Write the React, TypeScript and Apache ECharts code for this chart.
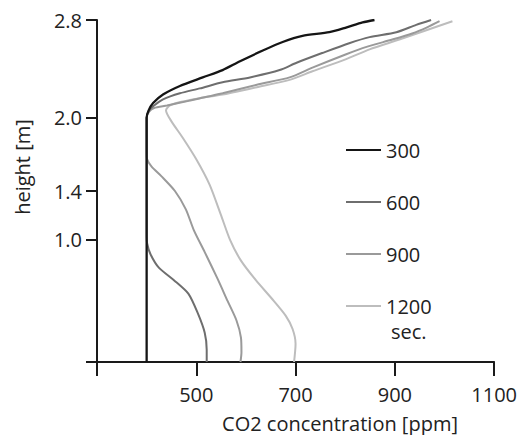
import React, { useEffect, useRef } from "react";
import * as echarts from "echarts";

// ---- data (CO2 concentration [ppm] vs height [m]) ----
const seriesNames = ["300", "600", "900", "1200"];

const ppm300 = [400, 400, 400, 404, 413, 433, 467, 513, 553, 587, 634, 674, 714, 768, 803, 835, 859];
const h300 = [0, 1.9, 2.0, 2.06, 2.12, 2.19, 2.26, 2.33, 2.39, 2.46, 2.55, 2.62, 2.67, 2.70, 2.74, 2.78, 2.80];

const ppm600 = [521, 521, 517, 503, 484, 455, 425, 408, 401, 400, 400, 400, 405, 415, 433, 467, 507, 553, 608, 668, 702, 754, 808, 849, 903, 943, 973];
const h600 = [0, 0.10, 0.24, 0.40, 0.56, 0.67, 0.77, 0.88, 0.97, 1.05, 1.9, 2.0, 2.06, 2.10, 2.15, 2.20, 2.24, 2.29, 2.33, 2.39, 2.45, 2.53, 2.61, 2.66, 2.70, 2.76, 2.80];

const ppm900 = [589, 591, 590, 581, 563, 543, 517, 495, 479, 457, 430, 410, 401, 400, 400, 400, 405, 415, 441, 487, 553, 622, 688, 734, 802, 843, 895, 935, 965, 990];
const h900 = [0, 0.08, 0.20, 0.34, 0.50, 0.68, 0.90, 1.08, 1.25, 1.40, 1.52, 1.60, 1.66, 1.72, 1.9, 2.0, 2.05, 2.08, 2.10, 2.14, 2.20, 2.27, 2.33, 2.41, 2.52, 2.58, 2.64, 2.69, 2.74, 2.79];

const ppm1200 = [697, 700, 694, 680, 652, 620, 590, 568, 550, 527, 500, 472, 450, 439, 447, 470, 507, 553, 622, 688, 734, 802, 849, 909, 959, 1016];
const h1200 = [0, 0.15, 0.27, 0.38, 0.52, 0.67, 0.83, 1.0, 1.2, 1.45, 1.66, 1.84, 1.97, 2.06, 2.10, 2.13, 2.16, 2.19, 2.25, 2.31, 2.38, 2.48, 2.56, 2.64, 2.71, 2.79];

const xTickValues = [300, 500, 700, 900, 1100];
const xLabelValues = [500, 700, 900, 1100];
const yTickValues = [0, 1.0, 1.4, 2.0, 2.8];
const yLabelValues = [1.0, 1.4, 2.0, 2.8];

const colors = ["#151515", "#6e6e6e", "#9a9a9a", "#bdbdbd"];
const FONT = "'Open Sans', 'Noto Sans', sans-serif";
const FS = 20;
const TEXT = "#222";
const AXIS = "#1a1a1a";

const zip = (xs: number[], ys: number[]) => xs.map((x, i) => [x, ys[i]]);

export default function App() {
  const ref = useRef<HTMLDivElement>(null);
  useEffect(() => {
    if (!ref.current) return;
    const chart = echarts.init(ref.current, undefined, { renderer: "svg" });
    const datasets = [zip(ppm300, h300), zip(ppm600, h600), zip(ppm900, h900), zip(ppm1200, h1200)];
    chart.setOption({
      animation: false,
      grid: { left: 97, right: 25, top: 20, bottom: 73, containLabel: false },
      xAxis: {
        type: "value",
        min: 300,
        max: 1100,
        axisLine: { show: true, onZero: false, lineStyle: { color: AXIS, width: 2 } },
        axisTick: { show: true, length: 14, customValues: xTickValues, lineStyle: { color: AXIS, width: 2 } },
        axisLabel: {
          customValues: xLabelValues,
          fontSize: FS,
          fontFamily: FONT,
          color: TEXT,
          margin: 22,
          lineHeight: 20,
          formatter: (v: number) => String(v),
        },
        splitLine: { show: false },
      },
      yAxis: {
        type: "value",
        min: 0,
        max: 2.8,
        axisLine: { show: true, onZero: false, lineStyle: { color: AXIS, width: 2 } },
        axisTick: { show: true, length: 11, customValues: yTickValues, lineStyle: { color: AXIS, width: 2 } },
        axisLabel: {
          customValues: yLabelValues,
          fontSize: FS,
          fontFamily: FONT,
          color: TEXT,
          margin: 15,
          formatter: (v: number) => v.toFixed(1),
        },
        splitLine: { show: false },
      },
      legend: {
        orient: "vertical",
        left: 346,
        top: 139,
        padding: 0,
        itemWidth: 35,
        itemHeight: 2,
        itemGap: 30,
        icon: "rect",
        data: seriesNames,
        textStyle: { fontSize: FS, fontFamily: FONT, color: TEXT, lineHeight: 22 },
      },
      graphic: [
        {
          type: "text",
          x: 391,
          y: 331,
          style: { text: "sec.", font: `${FS}px ${FONT}`, fill: TEXT, textVerticalAlign: "middle" },
        },
        {
          type: "text",
          x: 340,
          y: 423,
          style: { text: "CO2 concentration [ppm]", font: `${FS}px ${FONT}`, fill: TEXT, textAlign: "center", textVerticalAlign: "middle" },
        },
        {
          type: "text",
          x: 22,
          y: 167,
          rotation: Math.PI / 2,
          style: { text: "height [m]", font: `${FS}px ${FONT}`, fill: TEXT, textAlign: "center", textVerticalAlign: "middle" },
        },
      ],
      series: seriesNames.map((name, i) => ({
        name,
        type: "line",
        data: datasets[i],
        showSymbol: false,
        symbol: "none",
        smooth: 0.25,
        z: 10 - i,
        color: colors[i],
        lineStyle: { color: colors[i], width: i === 0 ? 2.3 : 2 },
      })),
    });
    return () => chart.dispose();
  }, []);
  return <div ref={ref} style={{ position: "absolute", left: 0, top: 0, width: 520, height: 435 }} />;
}
